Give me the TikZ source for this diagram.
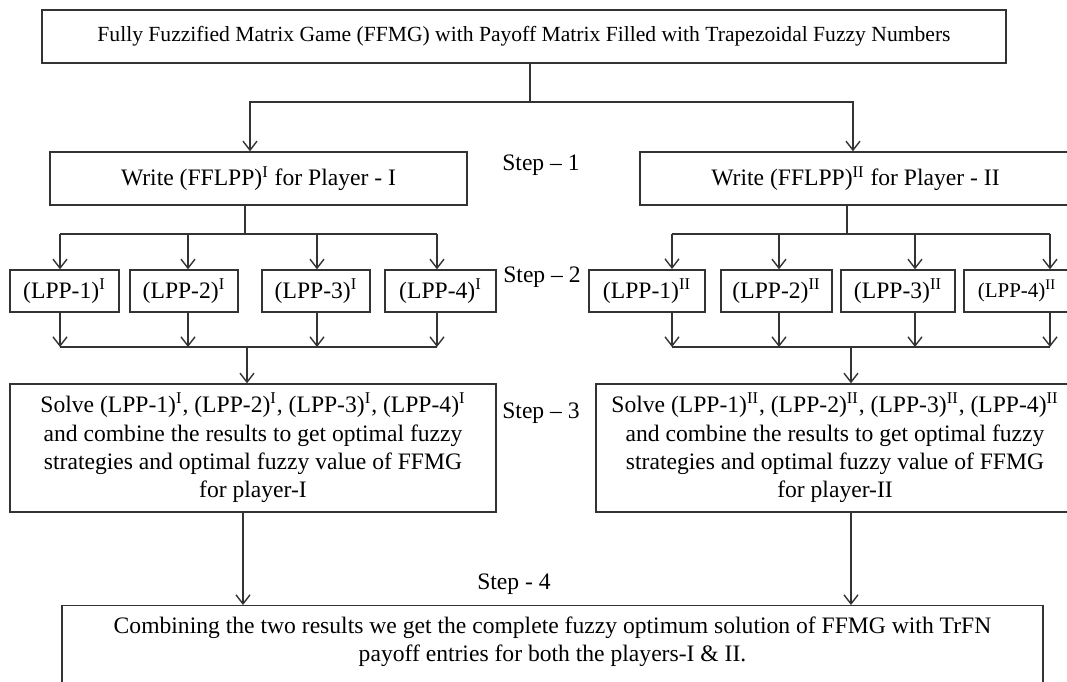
\documentclass[tikz,border=0pt]{standalone}
\usepackage{fontspec}
\setmainfont{Liberation Serif}
\usetikzlibrary{arrows.meta}

\tikzset{
  box/.style={draw=black!80, line width=0.7pt, inner sep=0pt, align=center,
    font=\fontsize{11.8}{14.2}\selectfont},
  conn/.style={draw=black!80, line width=0.7pt},
  arr/.style={conn, -{Straight Barb[length=4.5pt,width=7pt]}},
  steplabel/.style={inner sep=0pt, font=\fontsize{11.8}{14.2}\selectfont},
}

\begin{document}
\begin{tikzpicture}[x=0.5pt,y=-0.5pt]
\useasboundingbox (0,0) rectangle (1067,681);
\clip (0,0) rectangle (1067,681);

%Game box
\node[box, minimum width=482pt, minimum height=26.5pt, font=\fontsize{10.8}{13}\selectfont] (game) at (524,36.5)
  {Fully Fuzzified Matrix Game (FFMG) with Payoff Matrix Filled with Trapezoidal Fuzzy Numbers};

%Step 1
\node[box, minimum width=208.5pt, minimum height=26.5pt] (writeI) at (258.5,178.5)
  {Write (FFLPP)\textsuperscript{I} for Player - I};
\node[box, minimum width=215.5pt, minimum height=26.5pt] (writeII) at (855.5,178.5)
  {Write (FFLPP)\textsuperscript{II} for Player - II};

%Step 2
\node[box, minimum width=54.5pt, minimum height=21pt] (lppI1) at (64.5,291) {(LPP-1)\textsuperscript{I}};
\node[box, minimum width=54pt, minimum height=21pt] (lppI2) at (184,291) {(LPP-2)\textsuperscript{I}};
\node[box, minimum width=54pt, minimum height=21pt] (lppI3) at (316,291) {(LPP-3)\textsuperscript{I}};
\node[box, minimum width=55.5pt, minimum height=21pt] (lppI4) at (440.5,291) {(LPP-4)\textsuperscript{I}};
\node[box, minimum width=58pt, minimum height=21pt, line width=1pt] (lppII1) at (647,291) {(LPP-1)\textsuperscript{II}};
\node[box, minimum width=55.5pt, minimum height=21pt] (lppII2) at (776.5,291) {(LPP-2)\textsuperscript{II}};
\node[box, minimum width=57pt, minimum height=21pt] (lppII3) at (898,291) {(LPP-3)\textsuperscript{II}};
\node[box, minimum width=53pt, minimum height=21pt, font=\fontsize{10.5}{12}\selectfont] (lppII4) at (1017,291) {(LPP-4)\textsuperscript{II}};

%Step 3
\node[box, minimum width=243pt, minimum height=64pt] (solveI) at (253,448)
  {Solve (LPP-1)\textsuperscript{I}, (LPP-2)\textsuperscript{I}, (LPP-3)\textsuperscript{I}, (LPP-4)\textsuperscript{I}\\
   and combine the results to get optimal fuzzy\\
   strategies and optimal fuzzy value of FFMG\\
   for player-I};
\node[box, minimum width=239pt, minimum height=64pt] (solveII) at (835,448)
  {Solve (LPP-1)\textsuperscript{II}, (LPP-2)\textsuperscript{II}, (LPP-3)\textsuperscript{II}, (LPP-4)\textsuperscript{II}\\
   and combine the results to get optimal fuzzy\\
   strategies and optimal fuzzy value of FFMG\\
   for player-II};

%Step 4
\node[box, anchor=north, minimum width=490.5pt, inner ysep=5.5pt] (final) at (552.5,605)
  {Combining the two results we get the complete fuzzy optimum solution of FFMG with TrFN\\
   payoff entries for both the players-I \& II.\rule[-24pt]{0pt}{0pt}};

%Step labels
\node[steplabel] (step1) at (541,165) {Step -- 1};
\node[steplabel] (step2) at (542,277) {Step -- 2};
\node[steplabel] (step3) at (541,413) {Step -- 3};
\node[steplabel] (step4) at (514,584) {Step - 4};

%Game to players
\coordinate (j1) at (530,102);
\coordinate (j1L) at (250,102);
\coordinate (j1R) at (853,102);
\draw[conn] (j1 |- game.south) -- (j1);
\draw[arr] (j1) -- (j1L) -- (j1L |- writeI.north);
\draw[arr] (j1) -- (j1R) -- (j1R |- writeII.north);

%Player I split
\coordinate (bI) at (245,234);
\coordinate (aI1) at (60,234);
\coordinate (aI2) at (188,234);
\coordinate (aI3) at (317,234);
\coordinate (aI4) at (437,234);
\draw[conn] (bI |- writeI.south) -- (bI);
\draw[conn] (aI1) -- (aI4);
\draw[arr] (aI1) -- (aI1 |- lppI1.north);
\draw[arr] (aI2) -- (aI2 |- lppI2.north);
\draw[arr] (aI3) -- (aI3 |- lppI3.north);
\draw[arr] (aI4) -- (aI4 |- lppI4.north);

%Player I join
\coordinate (dI1) at (60,347);
\coordinate (dI2) at (188,347);
\coordinate (dI3) at (317,347);
\coordinate (dI4) at (437,347);
\coordinate (eI) at (247,347);
\draw[arr] (dI1 |- lppI1.south) -- (dI1);
\draw[arr] (dI2 |- lppI2.south) -- (dI2);
\draw[arr] (dI3 |- lppI3.south) -- (dI3);
\draw[arr] (dI4 |- lppI4.south) -- (dI4);
\draw[conn] (dI1) -- (dI4);
\draw[arr] (eI) -- (eI |- solveI.north);

%Player II split
\coordinate (bII) at (847,234);
\coordinate (aII1) at (672,234);
\coordinate (aII2) at (779,234);
\coordinate (aII3) at (915,234);
\coordinate (aII4) at (1050,234);
\draw[conn] (bII |- writeII.south) -- (bII);
\draw[conn] (aII1) -- (aII4);
\draw[arr] (aII1) -- (aII1 |- lppII1.north);
\draw[arr] (aII2) -- (aII2 |- lppII2.north);
\draw[arr] (aII3) -- (aII3 |- lppII3.north);
\draw[arr] (aII4) -- (aII4 |- lppII4.north);

%Player II join
\coordinate (dII1) at (672,347);
\coordinate (dII2) at (779,347);
\coordinate (dII3) at (915,347);
\coordinate (dII4) at (1050,347);
\coordinate (eII) at (851,347);
\draw[arr] (dII1 |- lppII1.south) -- (dII1);
\draw[arr] (dII2 |- lppII2.south) -- (dII2);
\draw[arr] (dII3 |- lppII3.south) -- (dII3);
\draw[arr] (dII4 |- lppII4.south) -- (dII4);
\draw[conn] (dII1) -- (dII4);
\draw[arr] (eII) -- (eII |- solveII.north);

%Results to final
\coordinate (fI) at (243,560);
\coordinate (fII) at (851,560);
\draw[arr] (fI |- solveI.south) -- (fI |- final.north);
\draw[arr] (fII |- solveII.south) -- (fII |- final.north);
\end{tikzpicture}
\end{document}
